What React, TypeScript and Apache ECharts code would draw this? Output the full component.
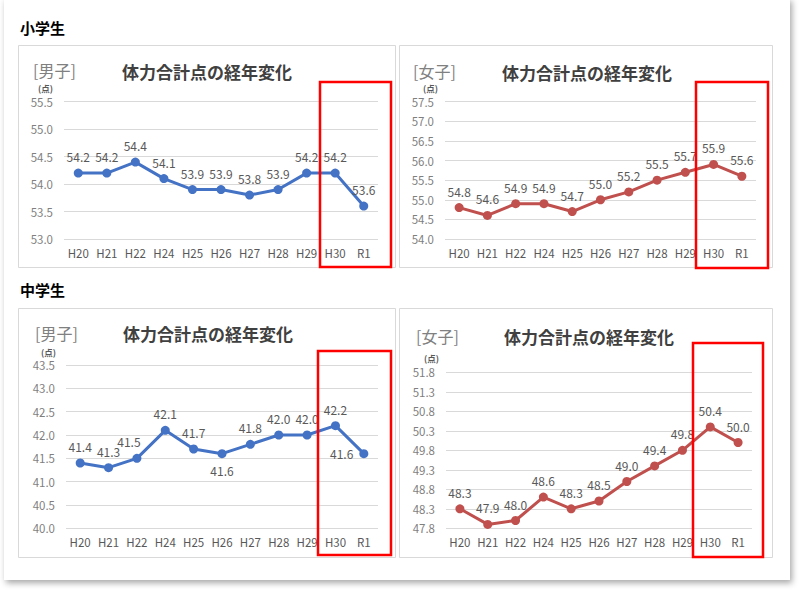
import React, { useEffect, useRef } from 'react';
import * as echarts from 'echarts';

const categories = ['H20', 'H21', 'H22', 'H24', 'H25', 'H26', 'H27', 'H28', 'H29', 'H30', 'R1'];
const elemBoys = [54.2, 54.2, 54.4, 54.1, 53.9, 53.9, 53.8, 53.9, 54.2, 54.2, 53.6];
const elemGirls = [54.8, 54.6, 54.9, 54.9, 54.7, 55.0, 55.2, 55.5, 55.7, 55.9, 55.6];
const juniorBoys = [41.4, 41.3, 41.5, 42.1, 41.7, 41.6, 41.8, 42.0, 42.0, 42.2, 41.6];
const juniorGirls = [48.3, 47.9, 48.0, 48.6, 48.3, 48.5, 49.0, 49.4, 49.8, 50.4, 50.0];

const elemBoysRange = [53.0, 55.5];
const elemGirlsRange = [54.0, 57.5];
const juniorBoysRange = [40.0, 43.5];
const juniorGirlsRange = [47.8, 51.8];
const tickStep = 0.5;

const headerElem = '小学生';
const headerJunior = '中学生';
const boysTag = '[男子]';
const girlsTag = '[女子]';
const chartTitle = '体力合計点の経年変化';
const unitLabel = '(点)';

const BLUE = '#4472c4';
const RED = '#c0504d';
const FONT = '"Noto Sans CJK JP", "Noto Sans", sans-serif';

const panels = [
  { values: elemBoys, range: elemBoysRange, color: BLUE, tag: boysTag,
    box: [18, 45, 377, 222], grid: { left: 64, top: 101.7, width: 314, height: 137.3 },
    tagPos: [33, 70], titlePos: [122, 71], unitPos: [38, 88], red: [320, 82, 71, 185],
    labelOverrides: {} as Record<number, any> },
  { values: elemGirls, range: elemGirlsRange, color: RED, tag: girlsTag,
    box: [399, 45, 373, 222], grid: { left: 445, top: 101.7, width: 311, height: 137.3 },
    tagPos: [413, 71], titlePos: [502, 72], unitPos: [423, 88], red: [696, 82, 72, 186],
    labelOverrides: {} as Record<number, any> },
  { values: juniorBoys, range: juniorBoysRange, color: BLUE, tag: boysTag,
    box: [18, 308, 377, 249], grid: { left: 66, top: 365, width: 312, height: 163.3 },
    tagPos: [35, 333], titlePos: [123, 333], unitPos: [41, 352], red: [318, 351, 73, 204],
    labelOverrides: { 5: { position: 'bottom', distance: 6 }, 10: { position: 'left', distance: 6 }, 2: { offset: [-8, 0] } } as Record<number, any> },
  { values: juniorGirls, range: juniorGirlsRange, color: RED, tag: girlsTag,
    box: [399, 308, 373, 249], grid: { left: 446, top: 372.3, width: 306, height: 156 },
    tagPos: [416, 336], titlePos: [504, 336], unitPos: [424, 357.5], red: [693, 343, 70, 214],
    labelOverrides: {} as Record<number, any> },
];

export default function App() {
  const ref = useRef<HTMLDivElement>(null);
  useEffect(() => {
    if (!ref.current) return;
    const chart = echarts.init(ref.current, null, { renderer: 'svg' });
    const graphic: any[] = [
      { type: 'rect', z: -20, shape: { x: 4, y: -2, width: 786, height: 582 },
        style: { fill: '#ffffff', shadowBlur: 6, shadowColor: 'rgba(0,0,0,0.35)', shadowOffsetX: 2, shadowOffsetY: 3 } },
      { type: 'text', x: 20, y: 27, style: { text: headerElem, font: `bold 15px ${FONT}`, fill: '#000', verticalAlign: 'middle' } },
      { type: 'text', x: 20, y: 289, style: { text: headerJunior, font: `bold 15px ${FONT}`, fill: '#000', verticalAlign: 'middle' } },
    ];
    panels.forEach((p) => {
      graphic.push({ type: 'rect', z: -10, shape: { x: p.box[0] + 0.5, y: p.box[1] + 0.5, width: p.box[2], height: p.box[3] },
        style: { fill: '#fff', stroke: '#d9d9d9', lineWidth: 1 } });
      graphic.push({ type: 'text', x: p.tagPos[0], y: p.tagPos[1], style: { text: p.tag, font: `16px ${FONT}`, fill: '#808080', verticalAlign: 'middle' } });
      graphic.push({ type: 'text', x: p.titlePos[0], y: p.titlePos[1], style: { text: chartTitle, font: `bold 17px ${FONT}`, fill: '#404040', verticalAlign: 'middle' } });
      graphic.push({ type: 'text', x: p.unitPos[0], y: p.unitPos[1], style: { text: unitLabel, font: `bold 8.5px ${FONT}`, fill: '#595959', verticalAlign: 'middle' } });
      graphic.push({ type: 'rect', z: 100, shape: { x: p.red[0], y: p.red[1], width: p.red[2], height: p.red[3] },
        style: { fill: 'none', stroke: '#ff0000', lineWidth: 2.5 } });
    });

    const option: any = {
      animation: false,
      backgroundColor: '#ffffff',
      grid: panels.map((p) => ({ ...p.grid, containLabel: false })),
      xAxis: panels.map((p, i) => ({
        type: 'category', gridIndex: i, data: categories, boundaryGap: true,
        axisLine: { show: false }, axisTick: { show: false },
        axisLabel: { color: '#595959', fontSize: 11.5, fontFamily: FONT, margin: 8, interval: 0 },
      })),
      yAxis: panels.map((p, i) => ({
        type: 'value', gridIndex: i, min: p.range[0], max: p.range[1], interval: tickStep,
        axisLine: { show: false }, axisTick: { show: false },
        splitLine: { show: true, lineStyle: { color: '#d9d9d9', width: 1 } },
        axisLabel: { color: '#7f7f7f', fontSize: 11.5, fontFamily: FONT, margin: 11,
          formatter: (v: number) => v.toFixed(1) },
      })),
      series: panels.map((p, i) => ({
        type: 'line', xAxisIndex: i, yAxisIndex: i,
        data: p.values.map((v, k) => (p.labelOverrides[k] ? { value: v, label: p.labelOverrides[k] } : v)),
        symbol: 'circle', symbolSize: 9,
        lineStyle: { color: p.color, width: 3 },
        itemStyle: { color: p.color },
        label: { show: true, position: 'top', distance: 6, color: '#595959', fontSize: 12, fontFamily: FONT,
          formatter: (d: any) => Number(d.value).toFixed(1) },
      })),
      graphic,
    };
    chart.setOption(option);
    return () => chart.dispose();
  }, []);
  return <div ref={ref} style={{ position: 'fixed', left: 0, top: 0, width: 800, height: 591 }} />;
}
